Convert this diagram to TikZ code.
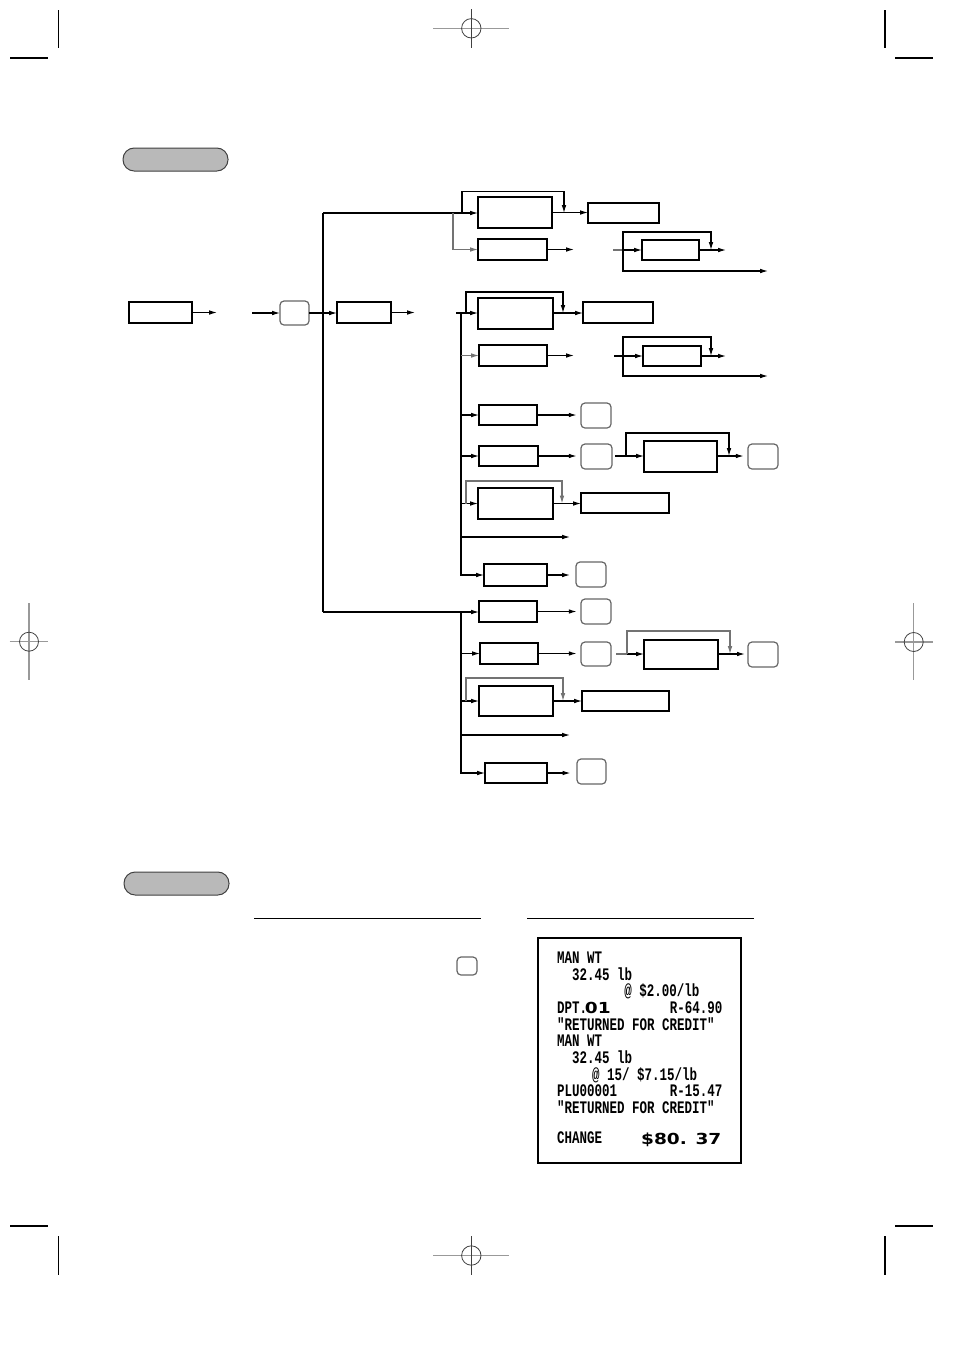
\documentclass[tikz,border=0pt]{standalone}
\usepackage{fontspec}
\newfontfamily\rcpt[FakeStretch=0.71]{Liberation Mono}
\newfontfamily\widefont[FakeStretch=1.22]{DejaVu Sans}
\usetikzlibrary{arrows.meta}
\newcommand\mkbox[6][box]{\node[#1, minimum width={(#5-#3)*0.5pt}, minimum height={(#6-#4)*0.5pt}] (#2) at ({(#3+#5)/2},{(#4+#6)/2}) {};}
\tikzset{
  box/.style={draw, line width=0.6pt, inner sep=0pt, outer sep=0pt},
  keyb/.style={draw=black!60, line width=0.6pt, rounded corners=2pt, inner sep=0pt, outer sep=0pt},
  pill/.style={draw=black!75, fill=gray!55, line width=0.5pt, rounded corners=5.6pt, inner sep=0pt, outer sep=0pt},
  rbox/.style={draw, line width=0.6pt, inner sep=0pt, outer sep=0pt},
  ln/.style={line width=0.55pt},
  lng/.style={line width=0.55pt, draw=black!55},
  arr/.style={ln, -{Latex[length=3.9pt,width=2.3pt]}},
  arrg/.style={lng, -{Latex[length=3.9pt,width=2.3pt]}},
  crop/.style={line width=0.6pt},
  reg/.style={line width=0.6pt, draw=black!40},
  regc/.style={line width=0.4pt, draw=black!75},
  rtext/.style={font=\rcpt\bfseries\fontsize{8.8}{10}\selectfont, inner sep=0pt},
  bigtext/.style={font=\widefont\bfseries\fontsize{7.6}{9}\selectfont, inner sep=0pt}
}
\begin{document}
\begin{tikzpicture}[x=0.5pt,y=-0.5pt]
\useasboundingbox (0,0) rectangle (954,1350);

% ---------- crop and registration marks ----------
\draw[crop] (58.7,10) -- (58.7,48);
\draw[crop] (10,58) -- (48,58);
\draw[crop] (885,10) -- (885,48);
\draw[crop] (895,58) -- (933,58);
\draw[crop] (58.7,1236) -- (58.7,1275);
\draw[crop] (10,1226) -- (48,1226);
\draw[crop] (885,1236) -- (885,1275);
\draw[crop] (895,1226) -- (933,1226);
% top centre
\draw[reg] (433,28.3) -- (509,28.3);
\draw[regc] (471.3,9.3) -- (471.3,47.7);
\draw[regc] (471.3,28.3) circle[radius=9.7];
% bottom centre
\draw[reg] (433,1255.5) -- (509,1255.5);
\draw[regc] (471.3,1236) -- (471.3,1275);
\draw[regc] (471.3,1255.5) circle[radius=9.7];
% left middle
\draw[reg] (29,603) -- (29,680);
\draw[reg] (9.7,641.7) -- (47.7,641.7);
\draw[regc] (29,641.7) circle[radius=9.5];
% right middle
\draw[reg] (913.7,603) -- (913.7,680);
\draw[reg] (895,642) -- (933,642);
\draw[regc] (913.7,642) circle[radius=9.5];

% ---------- headings ----------
\mkbox[pill]{p1}{123}{148}{228}{171}
\mkbox[pill]{p2}{124}{872}{229}{895}

% ---------- boxes ----------
\mkbox{A}{129}{302}{192}{323}
\mkbox[keyb]{k0}{280}{301}{309}{325}
\mkbox{B}{337}{302}{391}{323}
\mkbox{C}{478}{197}{552}{228}
\mkbox{E}{588}{203}{659}{223}
\mkbox{D}{478}{239}{547}{260}
\mkbox{F}{642}{240}{699}{260}
\mkbox{G}{478}{298}{553}{329}
\mkbox{H}{583}{302}{653}{323}
\mkbox{I}{479}{345}{547}{366}
\mkbox{J}{643}{346}{701}{366}
\mkbox{K}{479}{405}{537}{425}
\mkbox[keyb]{kL}{581}{403}{611}{428}
\mkbox{M}{479}{446}{538}{466}
\mkbox[keyb]{kN}{581}{444}{612}{469}
\mkbox{O}{644}{441}{717}{472}
\mkbox[keyb]{kP}{748}{444}{778}{469}
\mkbox{Q}{478}{488}{553}{519}
\mkbox{R}{581}{493}{669}{513}
\mkbox{T}{484}{564}{547}{586}
\mkbox[keyb]{kU}{576}{562}{606}{587}
\mkbox{V}{479}{601}{537}{622}
\mkbox[keyb]{kW}{581}{599}{611}{624}
\mkbox{X}{480}{643}{538}{664}
\mkbox[keyb]{kY}{581}{642}{611}{666}
\mkbox{Z}{644}{640}{718}{669}
\mkbox[keyb]{kAA}{748}{642}{778}{667}
\mkbox{BB}{479}{686}{553}{716}
\mkbox{CC}{582}{691}{669}{711}
\mkbox{EE}{485}{763}{547}{783}
\mkbox[keyb]{kFF}{577}{759}{606}{784}

% ---------- connectors: entry ----------
\coordinate (a1) at (217,312.5);
\coordinate (a2) at (252,313);
\draw[arr] (A.east) -- (a1);
\draw[arr] (a2) -- (a2 -| k0.west);
\draw[arr] (k0.east) -- (k0.east -| B.west);
\coordinate (b2) at (415,312.5);
\draw[arr] (B.east) -- (b2);

% main trunk
\coordinate (t1) at (323,213);
\coordinate (t2) at (323,612);
\draw[ln] (t1) -- (t2);
\draw[arr] (t1) -- (t1 -| C.west);
\coordinate (j1) at (453,213);
\draw[arrg] (j1) |- (D.west);
\draw[arr] (462,213) -- (462,191.5) -| (564,213);
\draw[arr] (C.east) -- (C.east -| E.west);
\coordinate (dE) at (574,249.5);
\draw[arr] (D.east) -- (dE);
% F subgroup
\coordinate (f0) at (613,250);
\coordinate (f1) at (623,250);
\draw[lng] (f0) -- (f1);
\draw[arr] (f1) -- (F.west);
\draw[arr] (f1) -- (623,232) -| (711,250);
\coordinate (fE) at (768,271);
\draw[arr] (f1) -- (623,271) -- (fE);
\coordinate (fR) at (726,250);
\draw[arr] (F.east) -- (fR);

% second trunk
\coordinate (s0) at (456,313);
\coordinate (s1) at (461,313);
\draw[arr] (s0) -- (G.west |- s0);
\draw[arr] (s1) |- (T.west);
\draw[arr] (466,313) -- (466,292) -| (563,313);
\draw[arr] (G.east |- s0) -- (H.west |- s0);
% I row
\draw[arrg] (s1 |- I.west) -- (I.west);
\coordinate (iE) at (574,355.5);
\draw[arr] (I.east) -- (iE);
\coordinate (g0) at (614,356);
\coordinate (g1) at (623,356);
\draw[ln] (g0) -- (g1);
\draw[arr] (g1) -- (J.west);
\draw[arr] (g1) -- (623,337) -| (711,356);
\coordinate (gE) at (768,376);
\draw[arr] (g1) -- (623,376) -- (gE);
\coordinate (gR) at (726,356);
\draw[arr] (J.east) -- (gR);
% K row
\draw[arr] (s1 |- K.west) -- (K.west);
\draw[arr] (K.east) -- ([xshift=-2.2pt]kL.west |- K.east);
% M row
\draw[arr] (s1 |- M.west) -- (M.west);
\draw[arr] (M.east) -- ([xshift=-2.2pt]kN.west |- M.east);
\coordinate (m0) at (615,456);
\coordinate (m1) at (626,456);
\draw[ln] (m0) -- (m1);
\draw[arr] (m1) -- (O.west |- m1);
\draw[arr] (m1) -- (626,433) -| (729,456);
\draw[arr] (O.east |- m1) -- ([xshift=-2.2pt]kP.west |- m1);
% Q row
\draw[arr] (s1 |- Q.west) -- (Q.west);
\draw[arrg] (466,503.5) -- (466,481) -| (562,503.5);
\draw[arr] (Q.east) -- (Q.east -| R.west);
% S row
\coordinate (sE) at (570,537);
\draw[arr] (s1 |- sE) -- (sE);
% T row
\draw[arr] (T.east) -- ([xshift=-3pt]kU.west |- T.east);

% bottom trunk
\draw[arr] (t2) -- (t2 -| V.west);
\coordinate (u1) at (461,612);
\draw[arr] (u1) |- (EE.west);
\draw[arr] (V.east) -- ([xshift=-2.2pt]kW.west |- V.east);
% X row
\draw[arr] (u1 |- X.west) -- (X.west);
\draw[arr] (X.east) -- ([xshift=-2.2pt]kY.west |- X.east);
\coordinate (y0) at (616,654);
\coordinate (y1) at (627,654);
\draw[lng] (y0) -- (y1);
\draw[arr] (y1) -- (Z.west |- y1);
\draw[arrg] (y1) -- (627,631) -| (730,654);
\draw[arr] (Z.east |- y1) -- ([xshift=-1.6pt]kAA.west |- y1);
% BB row
\draw[arr] (u1 |- BB.west) -- (BB.west);
\draw[arrg] (466,701) -- (466,678) -| (563,701);
\draw[arr] (BB.east) -- (BB.east -| CC.west);
% DD row
\coordinate (dd) at (570,735);
\draw[arr] (u1 |- dd) -- (dd);
% EE row
\draw[arr] (EE.east) -- ([xshift=-3.3pt]kFF.west |- EE.east);

% ---------- second section ----------
\coordinate (h1a) at (254,918.3);
\coordinate (h1b) at (481,918.3);
\coordinate (h2a) at (527,918.3);
\coordinate (h2b) at (754,918.3);
\draw[line width=0.6pt] (h1a) -- (h1b);
\draw[line width=0.6pt] (h2a) -- (h2b);
\mkbox[keyb]{kS}{457}{957}{477}{975}
\mkbox[rbox]{rc}{538}{938}{741}{1163}

% receipt text
\node[rtext, anchor=base west] (r1) at (556.7,963.3) {MAN WT};
\node[rtext, anchor=base west] (r2) at (571.7,980) {32.45 lb};
\node[rtext, anchor=base west] (r3) at (624,996.7) {@ \$2.00/lb};
\node[rtext, anchor=base west] (r4) at (556.7,1013.3) {DPT.};
\node[bigtext, anchor=base west] (r4b) at ([xshift=-1.5pt]r4.base east) {01};
\node[rtext, anchor=base east] (r4c) at (722.7,1013.3) {R-64.90};
\node[rtext, anchor=base west] (r5) at (556.7,1030) {"RETURNED FOR CREDIT"};
\node[rtext, anchor=base west] (r6) at (556.7,1046.7) {MAN WT};
\node[rtext, anchor=base west] (r7) at (571.7,1063.3) {32.45 lb};
\node[rtext, anchor=base west] (r8) at (591.7,1080) {@ 15/ \$7.15/lb};
\node[rtext, anchor=base west] (r9) at (556.7,1096.7) {PLU00001};
\node[rtext, anchor=base east] (r9c) at (722.7,1096.7) {R-15.47};
\node[rtext, anchor=base west] (r10) at (556.7,1113.3) {"RETURNED FOR CREDIT"};
\node[rtext, anchor=base west] (r11) at (556.7,1143.3) {CHANGE};
\node[bigtext, anchor=base east] (r11c) at (721.7,1144) {\$80. 37};
\end{tikzpicture}
\end{document}
